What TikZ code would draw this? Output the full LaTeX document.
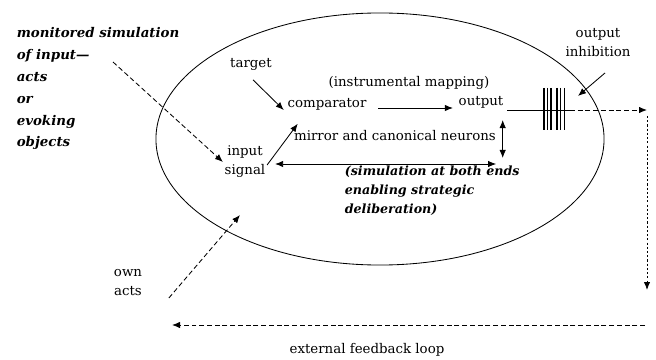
\documentclass[tikz,border=0pt]{standalone}
\usepackage{fontspec}
\setmainfont{DejaVu Serif}
\usetikzlibrary{positioning, shapes.geometric, arrows.meta, calc}

\begin{document}
\begin{tikzpicture}[x=0.025cm, y=-0.025cm, line width=0.6pt,
    font=\fontsize{9.5}{13.5}\selectfont]
\tikzstyle{lbl} = [inner sep=1pt, align=center]
\tikzstyle{note} = [inner sep=1pt, align=left, font=\fontsize{9}{13.5}\selectfont\bfseries\itshape]
\tikzstyle{line} = [draw, -{Latex[length=2mm, width=1.6mm]}]
\tikzstyle{both} = [draw, {Latex[length=2mm, width=1.6mm]}-{Latex[length=2mm, width=1.6mm]}]
\tikzstyle{dline} = [line, dash pattern=on 3.5pt off 2pt]
\tikzstyle{dotline} = [line, dash pattern=on 1.5pt off 1.5pt]

\useasboundingbox (0,0) rectangle (656,360);

% the brain
\node (brain) [ellipse, draw, inner sep=0pt, minimum width=11.2cm, minimum height=6.3cm] at (380,139) {};

\node (mon) [note, anchor=north west, font=\fontsize{9.5}{15.5}\selectfont\bfseries\itshape] at (15,26)
    {monitored simulation\\of input---\\acts\\or\\evoking\\objects};
\node (target) [lbl] at (251,64) {target};
\node (comp) [lbl] at (327,104) {comparator};
\node (instr) [lbl] at (409,83) {(instrumental mapping)};
\node (out) [lbl] at (481,102) {output};
\node (mirror) [lbl] at (395,136) {mirror and canonical neurons};
\node (input) [lbl] at (245,162) {input\\signal};
\node (sim) [note, anchor=north west] at (343,164)
    {(simulation at both ends\\enabling strategic\\deliberation)};
\node (inhib) [lbl] at (598,43) {output\\inhibition};
\node (own) [lbl] at (128,283) {own\\acts};
\node (ext) [lbl] at (367,350) {external feedback loop};

\coordinate (monA) at (113,62);
\coordinate (gate) at (570,110);
\coordinate (corner) at (647,110);
\coordinate (down) at (647,290);
\coordinate (inhibTip) at (578,96);
\coordinate (ownTip) at (240,215);
\coordinate (fbR) at (645,325);
\coordinate (fbL) at (172,325);

% inhibition bars
\foreach \x in {544,547.5,551,557,560.5,564.5}
    \draw[line width=1.1pt] (\x,88) -- (\x,130);

\path[dline] (monA) -- (input.west);
\path[line] ($(target.south)+(2,8)$) -- ($(comp.west)+(-2,6)$);
\path[line] ($(comp.east)+(10,4)$) -- ($(out.west)+(-4,6)$);
\draw ($(out.east)+(2,8)$) -- (gate);
\path[dline] (gate) -- (corner);
\path[dotline] ($(corner)+(0,6)$) -- (down);
\path[line] ($(inhib.south)+(7,14)$) -- (inhibTip);
\path[both] ($(mirror.east)+(5,-16)$) -- ($(mirror.east)+(5,22)$);
\path[line] ($(input.east)+(0,3)$) -- ($(comp.south west)+(12,12)$);
\path[both] ($(input.east)+(8,2)$) -- ($(input.east)+(229,2)$);
\path[dline] ($(own.east)+(25,15)$) -- (ownTip);
\path[dline] (fbR) -- (fbL);
\end{tikzpicture}
\end{document}
